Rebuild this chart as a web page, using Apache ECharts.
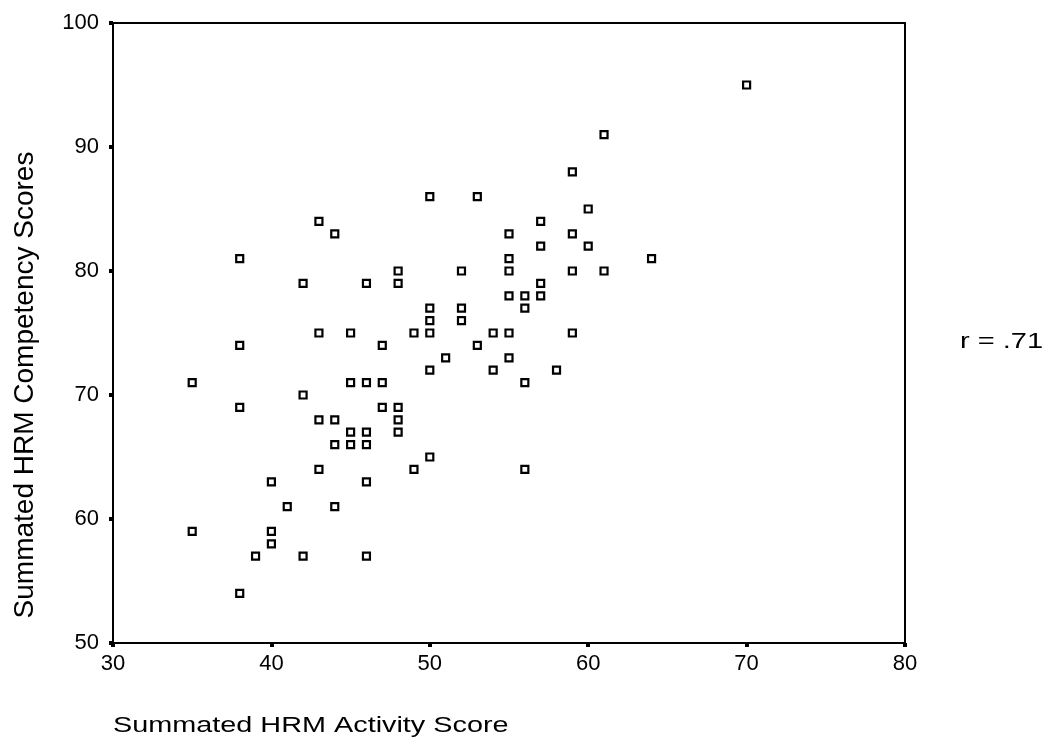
<!DOCTYPE html>
<html>
<head>
<meta charset="utf-8">
<title>HRM scatter</title>
<script src="https://cdn.jsdelivr.net/npm/echarts@6/dist/echarts.min.js"></script>
<style>
  html, body { margin: 0; padding: 0; background: #fff; }
  #chart { width: 1050px; height: 748px; }
</style>
</head>
<body>
<div id="chart"></div>
<script>
// scores (one entry per respondent)
var activityScore = [
  50, 53, 43, 44, 55, 38, 55, 55, 48, 52, 42, 46, 48, 55, 50, 52, 50, 52,
  43, 45, 49, 50, 54, 55, 38, 47, 53, 51, 55, 50, 54, 35, 45, 46, 47, 42,
  38, 47, 48, 43, 44, 48, 45, 46, 48, 44, 45, 46, 50, 43, 49, 40, 46, 41,
  44, 35, 40, 40, 39, 42, 46, 38,
  70, 61, 59, 60, 57, 59, 57, 60, 59, 61, 64, 57, 56, 57, 56, 59, 58, 56, 56
]
var competencyScore = [
  86, 86, 84, 83, 83, 81, 81, 80, 80, 80, 79, 79, 79, 78, 77, 77, 76, 76,
  75, 75, 75, 75, 75, 75, 74, 74, 74, 73, 73, 72, 72, 71, 71, 71, 71, 70,
  69, 69, 69, 68, 68, 68, 67, 67, 67, 66, 66, 66, 65, 64, 64, 63, 63, 61,
  61, 59, 59, 58, 57, 57, 57, 54,
  95, 91, 88, 85, 84, 83, 82, 82, 80, 80, 81, 79, 78, 78, 77, 75, 72, 71, 64
]
var xTitle = 'Summated HRM Activity Score'
var yTitle = 'Summated HRM Competency Scores'
var rLabel = 'r = .71'

var FONT = '"Liberation Sans", Arial, sans-serif'

var points = activityScore.map(function(x, i) {
  return [x, competencyScore[i]]
})

var chart = echarts.init(document.getElementById('chart'))
chart.setOption({
  animation: false,
  backgroundColor: '#fff',
  grid: {
    left: 113,
    right: 145,
    top: 23,
    bottom: 105,
    show: true,
    borderColor: '#000',
    borderWidth: 2
  },
  xAxis: {
    type: 'value',
    min: 30,
    max: 80,
    interval: 10,
    splitLine: { show: false },
    axisLine: { show: true, onZero: false, lineStyle: { color: '#000', width: 2 } },
    axisTick: { show: true, inside: false, length: 4, lineStyle: { color: '#000', width: 4 } },
    axisLabel: { color: '#000', fontFamily: FONT, fontSize: 22, margin: 10 }
  },
  yAxis: {
    type: 'value',
    min: 50,
    max: 100,
    interval: 10,
    splitLine: { show: false },
    axisLine: { show: true, onZero: false, lineStyle: { color: '#000', width: 2 } },
    axisTick: { show: true, inside: false, length: 4, lineStyle: { color: '#000', width: 4 } },
    axisLabel: { color: '#000', fontFamily: FONT, fontSize: 22, margin: 14 }
  },
  series: [{
    type: 'scatter',
    data: points,
    symbol: 'rect',
    symbolSize: 7,
    itemStyle: { color: '#fff', borderColor: '#000', borderWidth: 2.2, opacity: 1 }
  }],
  graphic: [
    {
      type: 'text',
      x: 113,
      y: 726,
      scaleX: 1.31,
      style: { text: xTitle, fill: '#000', font: '22px ' + FONT, verticalAlign: 'middle', align: 'left' }
    },
    {
      type: 'text',
      x: 25,
      y: 385,
      rotation: Math.PI / 2,
      style: { text: yTitle, fill: '#000', font: '28px ' + FONT, verticalAlign: 'middle', align: 'center' }
    },
    {
      type: 'text',
      x: 960,
      y: 342,
      scaleX: 1.32,
      style: { text: rLabel, fill: '#000', font: '22px ' + FONT, verticalAlign: 'middle', align: 'left' }
    }
  ]
})
</script>
</body>
</html>
